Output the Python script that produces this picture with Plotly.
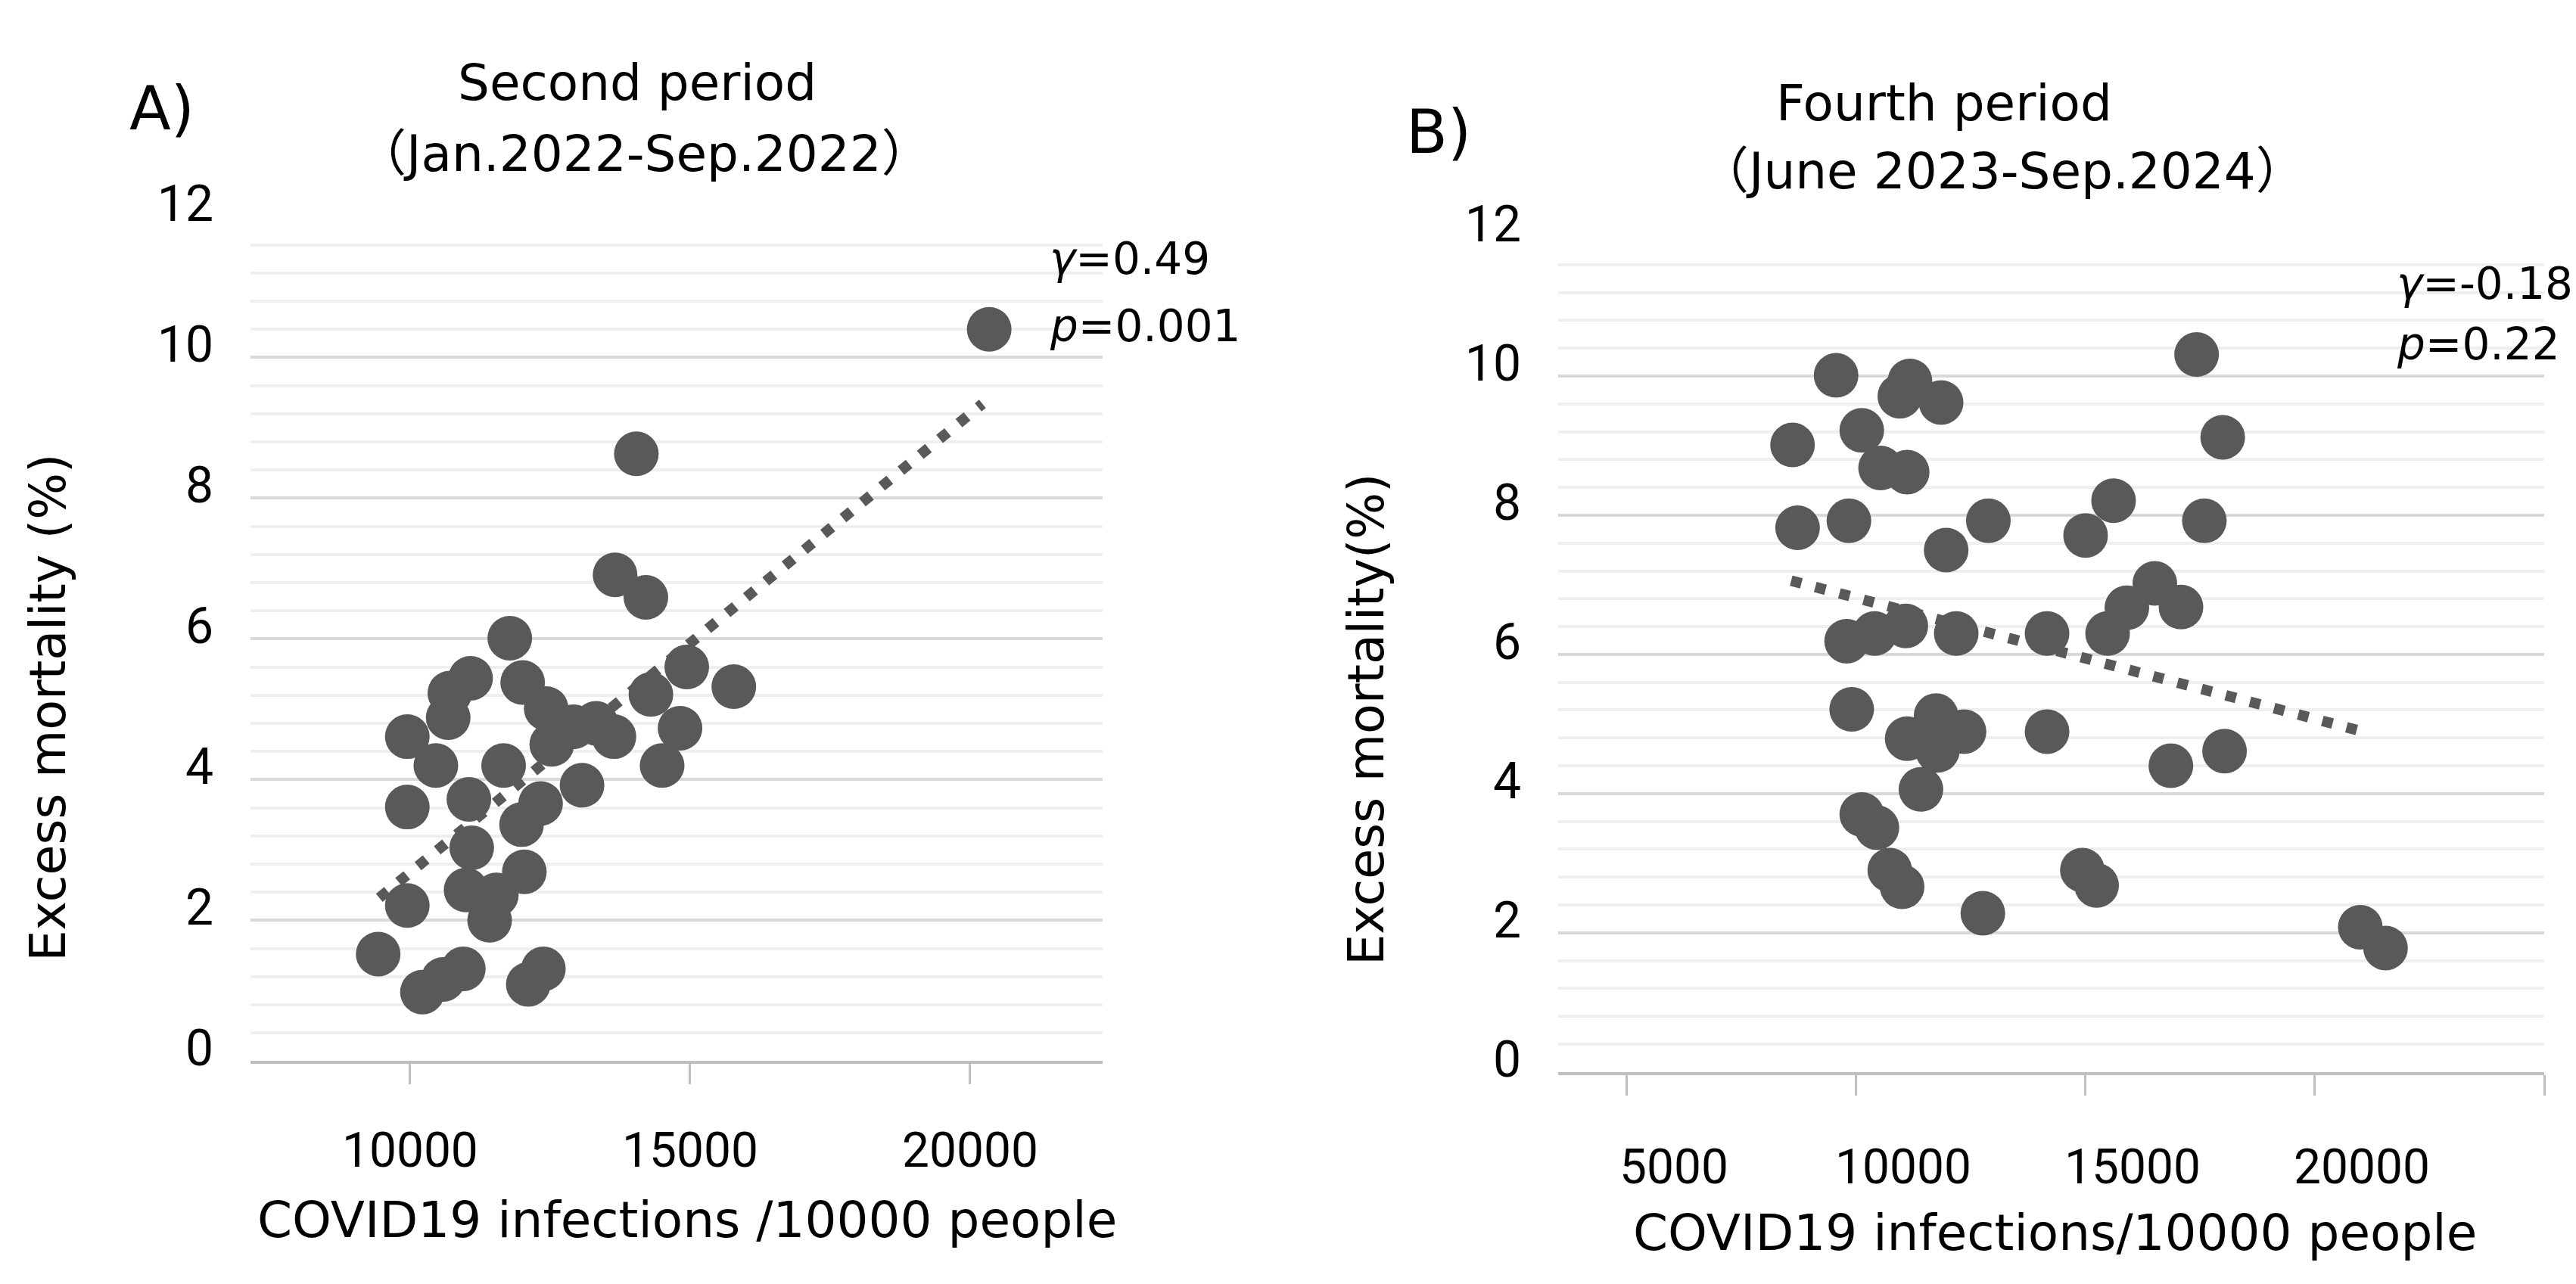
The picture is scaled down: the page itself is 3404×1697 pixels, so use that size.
import plotly.graph_objects as go

# panel A: second period (Jan.2022-Sep.2022)
a_x = [11780, 11080, 10710, 10680, 9950, 10460, 9950, 11050, 11670, 12010,
       12430, 12530, 12920, 13320, 13640, 13070, 12330, 11990, 11100, 12040,
       11000, 11540, 11420, 9950, 9430, 10220, 10950, 10590, 12110, 12380,
       14940, 14300, 15780, 14820, 14500, 14210, 20340, 14040, 13660]
a_y = [6.01, 5.44, 5.23, 4.88, 4.61, 4.20, 3.61, 3.72, 4.20, 5.38,
       5.01, 4.50, 4.75, 4.80, 4.61, 3.92, 3.66, 3.36, 3.03, 2.69,
       2.43, 2.36, 2.00, 2.21, 1.52, 0.98, 1.31, 1.16, 1.09, 1.31,
       5.60, 5.21, 5.32, 4.73, 4.20, 6.59, 10.40, 8.63, 6.91]
a_trend_x = [9450, 20220]
a_trend_y = [2.32, 9.34]

# panel B: fourth period (June 2023-Sep.2024)
b_x = [9560, 11170, 10950, 11850, 8610, 10120, 10530, 11110, 8720, 9840,
       11960, 12880, 15000, 15610, 9790, 10400, 11080, 12180, 14160, 15480,
       17420, 17990, 17590, 16510, 15900, 17080, 16860, 18030, 20990, 21540,
       9900, 11110, 11740, 12350, 11770, 14160, 11410, 10120, 10450, 10730,
       11000, 12760, 14930, 15240]
b_y = [10.01, 9.93, 9.71, 9.62, 9.01, 9.22, 8.68, 8.62, 7.82, 7.92,
       7.50, 7.92, 7.71, 8.21, 6.19, 6.30, 6.41, 6.30, 6.30, 6.30,
       10.31, 9.12, 7.92, 7.02, 6.67, 6.68, 4.40, 4.61, 2.08, 1.78,
       5.21, 4.79, 5.12, 4.89, 4.62, 4.89, 4.06, 3.70, 3.51, 2.90,
       2.66, 2.28, 2.90, 2.68]
b_trend_x = [8580, 21110]
b_trend_y = [7.06, 4.88]

a_xticks = [10000, 15000, 20000]
b_xticks = [5000, 10000, 15000, 20000, 25000]
b_xticktext = ["5000", "10000", "15000", "20000", ""]

W, H = 3404, 1697
GREY = "#595959"
NARROW = "Liberation Sans Narrow, Roboto, sans-serif"
WIDE = "DejaVu Sans, Noto Sans CJK JP, sans-serif"

fig = go.Figure()
for xs, ys, tx, ty, ax in [(a_x, a_y, a_trend_x, a_trend_y, ""),
                           (b_x, b_y, b_trend_x, b_trend_y, "2")]:
    fig.add_trace(go.Scatter(x=xs, y=ys, mode="markers", xaxis="x" + ax, yaxis="y" + ax,
                             marker=dict(size=59, color=GREY, line_width=0), showlegend=False))
    fig.add_trace(go.Scatter(x=tx, y=ty, mode="lines", xaxis="x" + ax, yaxis="y" + ax,
                             line=dict(color=GREY, width=14, dash="14px,19px"), showlegend=False))


def yax(domain, anchor):
    return dict(domain=domain, anchor=anchor, range=[0, 12], dtick=2, showgrid=True,
                gridcolor="#d9d9d9", gridwidth=4, zeroline=False, showline=False,
                tickfont=dict(family=NARROW, size=66, color="black"),
                ticklabelstandoff=48, ticklabelshift=-17,
                minor=dict(dtick=0.4, showgrid=True, gridcolor="#efefef", gridwidth=4))


def xax(domain, anchor, rng, vals, text, shift, standoff):
    return dict(domain=domain, anchor=anchor, range=rng, tickvals=vals, ticktext=text,
                showgrid=False, zeroline=False, showline=True, linecolor="#bfbfbf", linewidth=4,
                ticks="outside", ticklen=27, tickwidth=3, tickcolor="#bfbfbf",
                ticklabelshift=shift, ticklabelstandoff=standoff,
                tickfont=dict(family="Roboto, sans-serif", size=64, color="black"))


fig.update_layout(
    width=W, height=H, margin=dict(l=0, r=0, t=0, b=0),
    plot_bgcolor="white", paper_bgcolor="white",
    xaxis=xax([323 / W, 1449 / W], "y", [7150, 22365], a_xticks,
              [str(v) for v in a_xticks], 0, 32),
    yaxis=yax([1 - 1403 / H, 1 - 234 / H], "x"),
    xaxis2=xax([2051 / W, 3354 / W], "y2", [3500, 25000], b_xticks, b_xticktext, 62, 40),
    yaxis2=yax([1 - 1418 / H, 1 - 262 / H], "x2"),
)

notes = [
    ("A)", 206, 84, 80, "center", 0),
    ("Second period", 834, 49, 66, "center", 0),
    ("（Jan.2022-Sep.2022）", 843, 147, 66, "center", 0),
    ("B)", 1893, 117, 80, "center", 0),
    ("Fourth period", 2561, 77, 66, "center", 0),
    ("（June 2023-Sep.2024）", 2638, 171, 66, "center", 0),
    ("<i>γ</i>=0.49", 1377, 292, 58, "left", 0),
    ("<i>p</i>=0.001", 1377, 385, 58, "left", 0),
    ("<i>γ</i>=-0.18", 3157, 327, 58, "left", 0),
    ("<i>p</i>=0.22", 3157, 411, 58, "left", 0),
    ("COVID19 infections /10000 people", 900, 1623, 66, "center", 0),
    ("COVID19 infections/10000 people", 2707, 1641, 66, "center", 0),
    ("Excess mortality (%)", 56, 914, 65, "center", -90),
    ("Excess mortality(%)", 1798, 930, 65, "center", -90),
]
for text, px, py, size, anchor, angle in notes:
    fig.add_annotation(xref="paper", yref="paper", x=px / W, y=1 - py / H, text=text,
                       showarrow=False, xanchor=anchor, yanchor="middle", textangle=angle,
                       font=dict(family=WIDE, size=size, color="black"))

fig.write_html("out.html")
